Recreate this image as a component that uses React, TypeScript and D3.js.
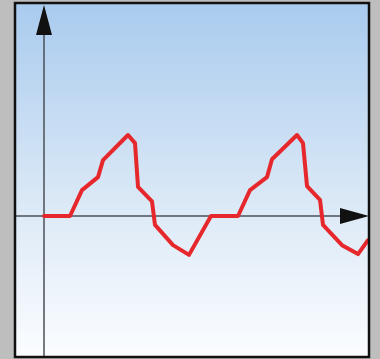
import React from "react";
import * as d3 from "d3";

const xs = [0, 26, 38, 54, 59, 84, 91, 94, 108, 111, 129, 145, 167, 194, 206, 223, 228, 253, 259, 263, 276, 279, 298, 314, 324];
const ys = [0, 0, 0.32, 0.48, 0.69, 1.0, 0.9, 0.36, 0.18, -0.11, -0.36, -0.48, 0, 0, 0.32, 0.48, 0.7, 1.0, 0.9, 0.37, 0.2, -0.11, -0.36, -0.47, -0.3];

const W = 380, H = 359;
const panel = { x0: 15, y0: 3, x1: 369, y1: 357 };

export default function App() {
  const x = d3.scaleLinear().domain([0, 324]).range([44, 368]);
  const y = d3.scaleLinear().domain([-1, 1]).range([297, 135]);
  const pts: [number, number][] = xs.map((v, i) => [v, ys[i]]);
  const line = d3.line<[number, number]>().x(d => x(d[0])).y(d => y(d[1]));
  const ax = x(0), ay = y(0);
  return (
    <svg width={W} height={H} style={{ position: "fixed", left: 0, top: 0 }}>
      <defs>
        <linearGradient id="bg" x1="0" y1="0" x2="0" y2="1">
          <stop offset="0" stopColor="#a9cbee" />
          <stop offset="0.55" stopColor="#dae8f6" />
          <stop offset="1" stopColor="#fbfdff" />
        </linearGradient>
        <clipPath id="clip">
          <rect x={panel.x0} y={panel.y0} width={panel.x1 - panel.x0} height={panel.y1 - panel.y0} />
        </clipPath>
      </defs>
      <rect x={0} y={0} width={W} height={H} fill="#bebebe" />
      <rect x={panel.x0} y={panel.y0} width={panel.x1 - panel.x0} height={panel.y1 - panel.y0} fill="url(#bg)" />
      <g clipPath="url(#clip)">
        <line x1={panel.x0} x2={342} y1={ay} y2={ay} stroke="#4a4f57" strokeWidth={1.5} />
        <line x1={ax} x2={ax} y1={34} y2={panel.y1} stroke="#4a4f57" strokeWidth={1.5} />
        <path d={`M${ax - 8},35 L${ax},5 L${ax + 8},35 Z`} fill="#111" />
        <path d={`M340,${ay - 8} L369,${ay} L340,${ay + 8} Z`} fill="#111" />
        <path d={line(pts) || ""} fill="none" stroke="#e6282c" strokeWidth={4} strokeLinejoin="round" strokeLinecap="round" />
      </g>
      <rect x={panel.x0} y={panel.y0} width={panel.x1 - panel.x0} height={panel.y1 - panel.y0} fill="none" stroke="#111" strokeWidth={2.5} />
    </svg>
  );
}
